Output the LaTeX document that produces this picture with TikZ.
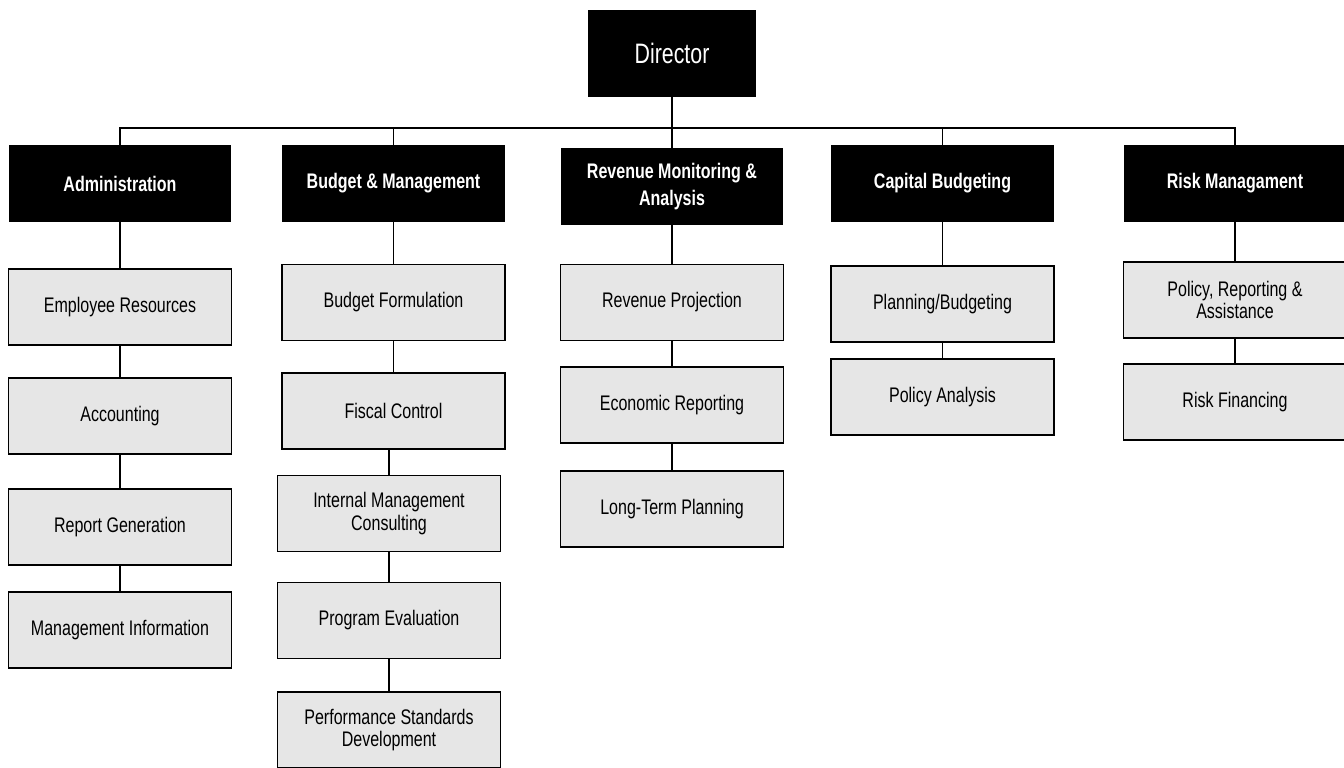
\documentclass[tikz,border=0pt]{standalone}
\usepackage{fontspec}
\setmainfont[FakeStretch=0.76]{Liberation Sans}
\usepackage{tikz}
\usetikzlibrary{positioning}
\definecolor{unitgray}{HTML}{E6E6E6}
\tikzstyle{chief} = [fill=black, text=white, minimum width = 3.36cm, minimum height = 1.74cm, font=\fontsize{16}{18}\selectfont]
\tikzstyle{dept} = [fill=black, text=white, minimum width = 4.46cm, minimum height = 1.54cm, align=center, font=\bfseries\fontsize{12}{15.3}\selectfont]
\tikzstyle{unit} = [draw, line width=0.9pt, fill=unitgray, minimum width = 4.46cm, minimum height = 1.52cm, align=center, font=\fontsize{12}{13}\selectfont]
\tikzstyle{link} = [line width=0.7pt]

\begin{document}
\begin{tikzpicture}[x=0.02cm, y=-0.02cm]
        \useasboundingbox (0,0) rectangle (1344,767);
        %Boxes
        \node [chief] (dir) at (672,53.5) {Director};
        \node [dept] (adm) at (120,183.5) {Administration};
        \node [dept] (bud) at (393.5,183.5) {Budget \& Management};
        \node [dept] (rev) at (672,186.5) {Revenue Monitoring \&\\Analysis};
        \node [dept] (cap) at (942.5,183.5) {Capital Budgeting};
        \node [dept] (risk) at (1235,183.5) {Risk Managament};
        % Administration
        \node [unit] (emp) at (120,307) {Employee Resources};
        \node [unit] (acc) at (120,416) {Accounting};
        \node [unit] (rep) at (120,527) {Report Generation};
        \node [unit] (mis) at (120,630) {Management Information};
        % Budget
        \node [unit] (form) at (393.5,302.5) {Budget Formulation};
        \node [unit] (fisc) at (393.5,411) {Fiscal Control};
        \node [unit] (cons) at (389,513.5) {Internal Management\\Consulting};
        \node [unit] (eval) at (389,620.5) {Program Evaluation};
        \node [unit] (perf) at (389,730) {Performance Standards\\Development};
        % Revenue
        \node [unit] (proj) at (672,302.5) {Revenue Projection};
        \node [unit] (econ) at (672,405) {Economic Reporting};
        \node [unit] (long) at (672,509) {Long-Term Planning};
        % Capital
        \node [unit] (plan) at (942.5,304) {Planning/Budgeting};
        \node [unit] (pol) at (942.5,397) {Policy Analysis};
        % Risk
        \node [unit] (prep) at (1235,300) {Policy, Reporting \&\\Assistance};
        \node [unit] (fin) at (1235,402) {Risk Financing};
        %Lines
        \coordinate (bus) at (672,128);
        \draw [link] (dir) -- (bus);
        \foreach \d in {adm,bud,rev,cap,risk}
            \draw [link] (bus) -| (\d.north);
        \draw [link] (adm) -- (emp) (emp) -- (acc) (acc) -- (rep) (rep) -- (mis);
        \draw [link] (bud) -- (form) (form) -- (fisc);
        \draw [link] (cons.north) -- (cons.north |- fisc.south);
        \draw [link] (cons) -- (eval) (eval) -- (perf);
        \draw [link] (rev) -- (proj) (proj) -- (econ) (econ) -- (long);
        \draw [link] (cap) -- (plan) (plan) -- (pol);
        \draw [link] (risk) -- (prep) (prep) -- (fin);
    \end{tikzpicture}
\end{document}
